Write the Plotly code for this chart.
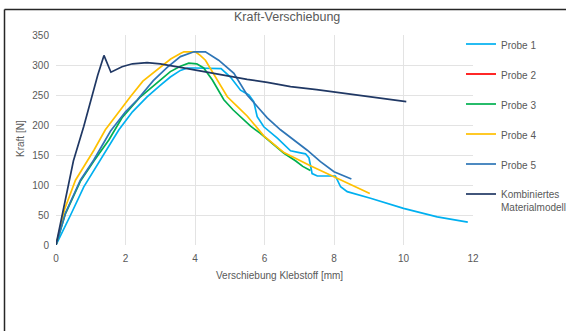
import plotly.graph_objects as go

# ---- data ----
probe1_x = [0, 0.2, 0.42, 0.8, 1.28, 1.81, 2.2, 2.62, 3.0, 3.29, 3.58, 3.78, 4.0, 4.3, 4.6, 4.75, 5.02, 5.31, 5.55, 5.69, 5.79, 5.98, 6.37, 6.75, 7.0, 7.18, 7.28, 7.37, 7.52, 8.04, 8.19, 8.38, 9.05, 10.0, 10.97, 11.85]
probe1_y = [0, 25, 50, 97, 142, 192, 222, 247, 266, 280, 291, 295, 295, 295, 295, 294, 280, 258, 250, 239, 214, 197, 178, 157, 154, 152, 145, 119, 115, 115, 97, 89, 78, 61, 47, 38]

# Probe 2 has no visible curve in the reference (legend entry only)
probe2_x = [None]
probe2_y = [None]

probe3_x = [0, 0.27, 0.7, 1.09, 1.52, 1.9, 2.43, 2.72, 3.0, 3.29, 3.58, 3.82, 4.05, 4.25, 4.5, 4.83, 5.1, 5.31, 5.6, 5.88, 6.2, 6.56, 6.9, 7.1, 7.32]
probe3_y = [0, 52, 106, 140, 175, 212, 247, 261, 276, 289, 298, 303, 302, 295, 275, 242, 225, 214, 198, 186, 170, 153, 140, 131, 124]

probe4_x = [0, 0.25, 0.56, 1.09, 1.42, 1.8, 2.14, 2.5, 3.0, 3.3, 3.58, 3.68, 4.01, 4.15, 4.3, 4.64, 4.93, 5.2, 5.5, 5.98, 6.56, 7.32, 8.0, 8.5, 9.03]
probe4_y = [0, 60, 108, 158, 192, 222, 247, 273, 297, 310, 319, 322, 322, 316, 308, 275, 247, 232, 215, 182, 154, 132, 114, 100, 86]

probe5_x = [0, 0.27, 0.7, 1.09, 1.42, 1.57, 2.0, 2.34, 2.8, 3.2, 3.58, 3.97, 4.3, 4.68, 5.12, 5.5, 5.88, 6.08, 6.46, 6.84, 7.23, 7.61, 8.0, 8.5]
probe5_y = [0, 53, 108, 142, 175, 190, 222, 242, 274, 296, 314, 322, 322, 308, 286, 250, 225, 212, 192, 175, 158, 139, 122, 110]

kombi_x = [0, 0.25, 0.5, 0.8, 1.0, 1.2, 1.38, 1.58, 1.9, 2.2, 2.62, 3.0, 3.5, 4.06, 4.5, 5.1, 5.5, 6.08, 6.75, 7.5, 8.0, 8.5, 9.0, 9.5, 10.08]
kombi_y = [0, 70, 140, 198, 242, 283, 316, 288, 297, 302, 304, 302, 297, 291, 286, 280, 276, 271, 264, 259, 255, 251, 247, 243, 239]

series_names = ["Probe 1", "Probe 2", "Probe 3", "Probe 4", "Probe 5", "Kombiniertes<br>Materialmodell"]
series_colors = ["#00B0F0", "#FF0000", "#00B050", "#FFC000", "#2E75B6", "#203864"]
series_x = [probe1_x, probe2_x, probe3_x, probe4_x, probe5_x, kombi_x]
series_y = [probe1_y, probe2_y, probe3_y, probe4_y, probe5_y, kombi_y]

x_ticks = [0, 2, 4, 6, 8, 10, 12]
y_ticks = [0, 50, 100, 150, 200, 250, 300, 350]

# ---- layout geometry (pixels) ----
W, H = 566, 331
PL, PR, PT, PB = 56, 473, 35, 245


def px(xp):
    return (xp - PL) / (PR - PL)


def py(yp):
    return (PB - yp) / (PB - PT)


FONT = "Liberation Sans, Arial, sans-serif"
GREY = "#595959"

fig = go.Figure()
for i, (n, c, xs, ys) in enumerate(zip(series_names, series_colors, series_x, series_y)):
    fig.add_trace(go.Scatter(x=xs, y=ys, mode="lines", name=n,
                             line=dict(color=c, width=1.7),
                             legendgroup=f"g{i}", showlegend=True))

fig.update_layout(
    width=W, height=H,
    margin=dict(l=PL, r=W - PR, t=PT, b=H - PB, pad=0, autoexpand=False),
    paper_bgcolor="white", plot_bgcolor="white",
    font=dict(family=FONT, color=GREY, size=10),
    showlegend=True,
    legend=dict(x=px(461), y=py(31), xanchor="left", yanchor="top",
                font=dict(size=10, color=GREY, family=FONT),
                tracegroupgap=11, valign="top", bgcolor="rgba(0,0,0,0)",
                maxheight=300),
    xaxis=dict(range=[0, 12], tickvals=x_ticks, showgrid=True, gridcolor="#E3E3E3",
               gridwidth=1, zeroline=False, showline=False, ticks="",
               tickfont=dict(size=10, color=GREY), ticklabelstandoff=6),
    yaxis=dict(range=[0, 350], tickvals=y_ticks, showgrid=True, gridcolor="#E3E3E3",
               gridwidth=1, zeroline=False, showline=False, ticks="",
               tickfont=dict(size=10, color=GREY), ticklabelstandoff=6),
    annotations=[
        dict(text="Kraft-Verschiebung", x=px(287), y=py(17), xref="paper", yref="paper",
             showarrow=False, font=dict(size=12.5, color=GREY, family=FONT),
             xanchor="center", yanchor="middle"),
        dict(text="Verschiebung Klebstoff [mm]", x=px(279), y=py(275), xref="paper", yref="paper",
             showarrow=False, font=dict(size=10, color=GREY, family=FONT),
             xanchor="center", yanchor="middle"),
        dict(text="Kraft [N]", x=px(20), y=py(139), xref="paper", yref="paper",
             showarrow=False, textangle=-90, font=dict(size=10, color=GREY, family=FONT),
             xanchor="center", yanchor="middle"),
    ],
    shapes=[
        dict(type="line", xref="paper", yref="paper", x0=px(4.5), x1=px(4.5), y0=py(9.5), y1=py(340),
             line=dict(color="#262626", width=1.5)),
        dict(type="line", xref="paper", yref="paper", x0=px(4.5), x1=px(570), y0=py(9.5), y1=py(9.5),
             line=dict(color="#262626", width=1.5)),
    ],
)

fig.write_html("out.html", config={"displayModeBar": False},
               post_script="document.body.style.margin='0';document.body.style.overflow='hidden';")
